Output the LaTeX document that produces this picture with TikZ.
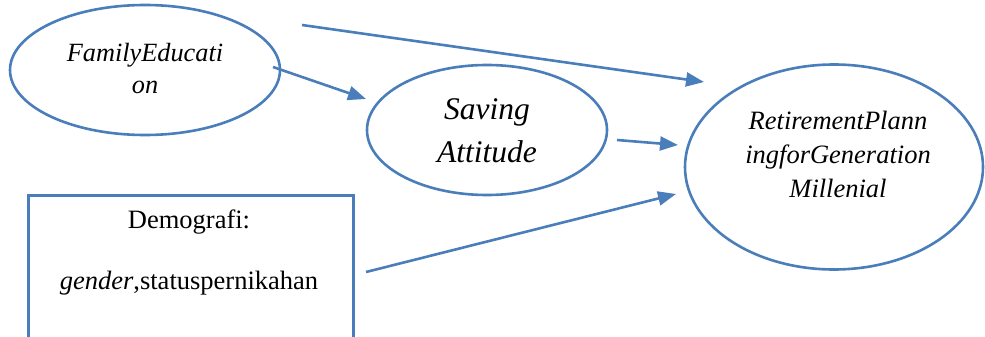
\documentclass[tikz,border=0pt]{standalone}
\usepackage{fontspec}
\setmainfont{Liberation Serif}[ItalicFont={Liberation Serif Italic},BoldFont={Liberation Serif Bold}]
\usetikzlibrary{shapes.geometric,arrows.meta}
\definecolor{wblue}{RGB}{74,126,187}
\tikzset{
  ell/.style={draw=wblue, line width=2.6pt, ellipse, inner sep=0pt},
  txt/.style={align=center, inner sep=0pt, text=black},
  conn/.style={draw=wblue, line width=2.6pt, -{Triangle[length=18pt,width=14pt]}},
}
\begin{document}
\begin{tikzpicture}[x=1pt,y=-1pt]
\useasboundingbox (0,0) rectangle (985,337);
\clip (0,0) rectangle (985,337);
% ellipses
\node[ell, minimum width=270pt, minimum height=130pt] (fam) at (145,70) {};
\node[ell, minimum width=240pt, minimum height=130pt] (sav) at (487,130) {};
\node[ell, minimum width=298pt, minimum height=205pt] (ret) at (834,167) {};
% box
\node[draw=wblue, line width=2.6pt, rectangle, minimum width=325pt, minimum height=170pt, anchor=north west, inner sep=0pt] (demo) at (27,194) {};
% texts
\node[txt, font=\fontsize{26.3}{32}\selectfont\itshape] (famt) at (145,69) {FamilyEducati\\on};
\node[txt, font=\fontsize{31.5}{43}\selectfont\itshape] (savt) at (487,131) {Saving\\Attitude};
\node[txt, font=\fontsize{26.5}{34}\selectfont\itshape] (rett) at (838,154) {RetirementPlann\\ingforGeneration\\Millenial};
\node[txt, font=\fontsize{26.5}{32}\selectfont] (demot) at (189,252) {Demografi:\\[29pt]\textit{gender},statuspernikahan};
% connector end points
\coordinate (c1s) at (302,25);
\coordinate (c1e) at (704,82);
\coordinate (c2s) at (273,67);
\coordinate (c2e) at (366,99);
\coordinate (c3s) at (617,140);
\coordinate (c3e) at (678,145);
\coordinate (c4s) at (366,272);
\coordinate (c4e) at (676,194);
\draw[conn] (c1s) -- (c1e);
\draw[conn] (c2s) -- (c2e);
\draw[conn] (c3s) -- (c3e);
\draw[conn] (c4s) -- (c4e);
\end{tikzpicture}
\end{document}
